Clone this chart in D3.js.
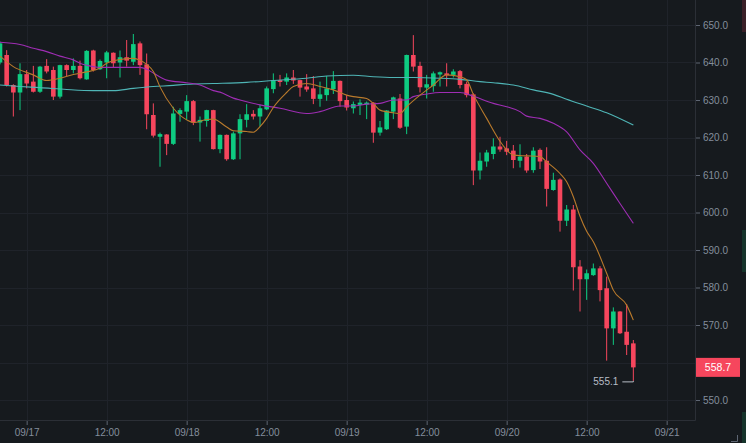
<!DOCTYPE html>
<html>
<head>
<meta charset="utf-8">
<script src="https://cdn.jsdelivr.net/npm/d3@7"></script>
<style>
  html, body { margin: 0; padding: 0; background: #161a1e; }
  svg { display: block; }
</style>
</head>
<body>
<svg id="chart" width="746" height="443"></svg>
<script>
// hourly candles, the first one is 09/16 20:00
const open = [
  640.0, 642.0, 634.0, 632.0, 636.9, 634.9, 632.2, 639.1, 638.0, 630.9,
  639.3, 638.0, 639.1, 635.5, 643.2, 638.2, 640.0, 642.6, 640.0, 641.4,
  640.2, 645.1, 639.5, 626.0, 620.2, 620.8, 618.3, 626.3, 626.9, 629.7,
  624.0, 624.4, 627.3, 616.9, 620.7, 614.2, 621.1, 624.7, 626.3, 625.6,
  627.5, 632.9, 635.3, 634.9, 636.0, 635.3, 633.6, 633.1, 630.3, 631.3,
  632.9, 635.1, 630.0, 627.8, 628.7, 628.8, 629.3, 621.3, 622.2, 626.9,
  630.4, 622.9, 642.0, 639.1, 633.3, 633.7, 636.8, 637.1, 636.7, 637.7,
  634.3, 631.5, 611.2, 613.6, 615.6, 617.6, 617.1, 616.5, 613.8, 614.9,
  611.3, 616.7, 613.8, 606.0, 608.8, 597.8, 600.8, 585.6, 582.2, 583.3,
  585.1, 579.8, 569.1, 573.6, 568.2, 565.1
];
const high = [
  645.6, 643.3, 634.2, 639.8, 638.0, 639.1, 639.1, 640.9, 638.9, 639.4,
  639.5, 641.1, 640.5, 643.3, 643.4, 640.8, 643.1, 642.7, 643.2, 646.0,
  647.6, 645.6, 642.4, 629.1, 621.3, 620.9, 628.2, 627.8, 631.3, 630.0,
  625.6, 627.4, 627.4, 620.8, 620.8, 621.6, 626.2, 628.9, 627.3, 628.7,
  633.6, 637.1, 636.7, 637.1, 638.0, 635.4, 636.9, 636.4, 634.9, 636.4,
  637.7, 635.2, 631.3, 629.6, 630.2, 629.6, 629.4, 624.4, 627.3, 630.9,
  631.6, 642.1, 647.3, 640.2, 636.7, 637.6, 637.6, 639.8, 638.2, 638.0,
  634.9, 631.8, 616.0, 616.7, 619.8, 620.2, 619.1, 618.0, 618.2, 615.6,
  617.4, 617.1, 617.4, 610.6, 609.1, 602.0, 602.0, 587.3, 584.8, 586.4,
  585.7, 582.9, 574.7, 573.7, 575.6, 566.0
];
const low = [
  639.5, 633.6, 625.6, 627.3, 633.1, 632.0, 631.9, 637.1, 630.0, 630.4,
  636.4, 637.1, 635.5, 635.4, 637.6, 638.0, 635.8, 638.6, 636.0, 638.9,
  639.3, 636.7, 622.2, 620.0, 612.2, 615.3, 618.0, 624.2, 624.7, 623.3,
  618.9, 622.9, 616.8, 615.8, 613.8, 614.0, 614.2, 622.7, 624.8, 622.9,
  627.3, 631.8, 633.6, 634.0, 634.3, 630.9, 632.2, 628.9, 628.2, 629.8,
  631.6, 628.2, 627.2, 626.4, 626.0, 624.9, 618.6, 620.5, 622.0, 624.9,
  622.3, 620.9, 637.6, 632.0, 630.4, 632.2, 633.6, 633.6, 636.0, 633.1,
  630.7, 607.3, 608.8, 612.2, 614.2, 616.2, 615.3, 611.8, 612.0, 610.6,
  610.6, 611.6, 601.6, 605.8, 594.9, 596.4, 579.2, 573.6, 576.7, 583.1,
  576.3, 560.5, 564.7, 567.6, 562.0, 555.1
];
const close = [
  645.1, 634.0, 632.0, 636.9, 634.4, 632.2, 638.9, 637.6, 630.9, 639.3,
  638.0, 639.1, 635.8, 643.1, 638.0, 640.4, 642.7, 639.8, 641.4, 640.5,
  644.9, 639.3, 626.2, 620.5, 620.9, 618.3, 626.4, 627.3, 629.7, 624.0,
  624.7, 627.3, 616.9, 620.7, 614.2, 621.1, 624.9, 626.2, 625.6, 627.8,
  633.1, 635.3, 634.8, 636.0, 635.2, 633.3, 632.8, 630.3, 631.5, 633.1,
  635.1, 629.7, 628.0, 628.9, 629.3, 629.3, 621.3, 622.7, 627.2, 630.7,
  622.6, 642.0, 638.9, 633.4, 634.2, 637.1, 637.4, 636.6, 637.6, 634.0,
  631.3, 611.2, 613.8, 616.0, 617.6, 616.8, 616.2, 614.0, 614.9, 611.2,
  616.5, 613.6, 606.3, 608.7, 597.8, 600.8, 585.4, 582.2, 583.8, 585.1,
  579.3, 569.1, 573.6, 567.8, 564.7, 558.7
];

// moving averages: [candle index, value]
const maFast = [
  [0, 641.7], [2, 638.9], [5, 636.7], [7, 635.2], [9, 635.8], [11, 636.8], [13, 637.5],
  [15, 638.5], [16, 639.8], [18, 640.8], [20, 641.1], [21, 640.6], [22, 639.5], [23, 637.6],
  [24, 633.5], [26, 627.8], [28, 624.7], [29, 624.0], [31, 624.8], [32, 624.9], [34, 622.8],
  [35, 621.8], [37, 621.6], [38, 621.4], [39, 622.9], [40, 625.1], [41, 628.0], [43, 632.0],
  [44, 633.6], [46, 634.4], [48, 633.6], [50, 632.7], [52, 631.3], [53, 630.9], [55, 630.4],
  [56, 629.1], [57, 627.3], [59, 626.6], [60, 626.4], [61, 628.2], [63, 631.3], [65, 634.0],
  [67, 636.7], [69, 636.2], [70, 635.4], [71, 631.5], [73, 625.1], [75, 619.0], [76, 616.7],
  [77, 615.3], [79, 615.1], [81, 614.9], [82, 613.5], [84, 610.4], [85, 608.2], [86, 604.2],
  [87, 599.0], [88, 595.0], [89, 592.2], [91, 583.8], [92, 579.3], [94, 575.3], [95, 571.3]
];
const maMid = [
  [0, 645.4], [3, 644.8], [5, 643.8], [7, 642.9], [9, 641.7], [11, 640.7], [12, 639.8],
  [14, 638.9], [15, 638.7], [21, 638.7], [22, 638.2], [23, 637.2], [25, 635.3], [28, 634.6],
  [30, 634.0], [32, 632.5], [33, 632.1], [35, 630.5], [36, 630.0], [39, 628.7], [42, 627.8],
  [46, 626.4], [48, 626.9], [51, 628.4], [53, 628.4], [55, 628.9], [57, 629.1], [59, 630.0],
  [61, 630.0], [62, 630.9], [64, 631.6], [66, 632.0], [69, 632.0], [71, 631.0], [74, 629.1],
  [76, 628.2], [78, 626.9], [79, 625.7], [81, 625.1], [83, 623.8], [85, 621.5], [87, 616.7],
  [89, 613.1], [91, 607.8], [93, 602.4], [95, 597.1]
];
const maSlow = [
  [0, 634.0], [3, 633.6], [6, 633.3], [10, 632.8], [14, 632.5], [17, 632.5], [20, 633.1],
  [23, 633.6], [26, 633.9], [28, 634.2], [32, 634.4], [37, 634.7], [41, 635.2], [46, 635.8],
  [49, 636.4], [53, 636.6], [56, 636.2], [59, 636.0], [62, 636.0], [66, 635.8], [69, 635.5],
  [72, 634.9], [74, 634.6], [77, 634.0], [80, 632.7], [83, 631.5], [85, 630.2], [88, 628.4],
  [91, 626.6], [95, 623.3]
];

const priceTicks = [550, 560, 570, 580, 590, 600, 610, 620, 630, 640, 650];
const lastPrice = 558.7;
const lowPrice = 555.1;

const up = "#0ecb81", down = "#f6465d";
const plotW = 695, plotH = 420;

const svg = d3.select("#chart");
svg.append("rect").attr("width", 746).attr("height", 443).attr("fill", "#161a1e");

const t0 = new Date(2021, 8, 16, 20);
const times = open.map((d, i) => d3.timeHour.offset(t0, i));

const x = d3.scaleTime()
  .domain([t0, d3.timeMinute.offset(t0, 104.25 * 60)])
  .range([0, plotW]);
const y = d3.scaleLinear().domain([550, 650]).range([400, 25]);

const xTicks = x.ticks(d3.timeHour.every(12));

// grid
svg.append("g").selectAll("line").data(priceTicks).join("line")
  .attr("x1", 0).attr("x2", plotW)
  .attr("y1", d => Math.round(y(d)) + 0.5).attr("y2", d => Math.round(y(d)) + 0.5)
  .attr("stroke", "#1f232a");
svg.append("g").selectAll("line").data(xTicks).join("line")
  .attr("x1", d => Math.round(x(d)) + 0.5).attr("x2", d => Math.round(x(d)) + 0.5)
  .attr("y1", 0).attr("y2", plotH)
  .attr("stroke", "#1f232a");

// candles
svg.append("clipPath").attr("id", "plot")
  .append("rect").attr("width", plotW).attr("height", plotH);
const plot = svg.append("g").attr("clip-path", "url(#plot)");

const idx = d3.range(open.length);
const col = i => close[i] >= open[i] ? up : down;

plot.append("g").selectAll("line").data(idx).join("line")
  .attr("x1", i => x(times[i])).attr("x2", i => x(times[i]))
  .attr("y1", i => y(high[i])).attr("y2", i => y(low[i]))
  .attr("stroke", col).attr("stroke-width", 1);

const bw = 4.6;
plot.append("g").selectAll("rect").data(idx).join("rect")
  .attr("x", i => x(times[i]) - bw / 2)
  .attr("width", bw)
  .attr("y", i => y(Math.max(open[i], close[i])))
  .attr("height", i => Math.max(1, Math.abs(y(open[i]) - y(close[i]))))
  .attr("fill", col);

// moving averages
const maLine = d3.line()
  .x(d => x(times[d[0]]))
  .y(d => y(d[1]))
  .curve(d3.curveMonotoneX);

[[maSlow, "#4fb5b6"], [maMid, "#9e2db3"], [maFast, "#b97a2c"]].forEach(([data, c]) => {
  plot.append("path").datum(data)
    .attr("d", maLine)
    .attr("fill", "none")
    .attr("stroke", c)
    .attr("stroke-width", 1.1);
});

// axis frame
svg.append("line").attr("x1", plotW + 0.5).attr("x2", plotW + 0.5)
  .attr("y1", 0).attr("y2", plotH + 0.5).attr("stroke", "#2b2f36");
svg.append("line").attr("x1", 0).attr("x2", plotW + 0.5)
  .attr("y1", plotH + 0.5).attr("y2", plotH + 0.5).attr("stroke", "#2b2f36");

const fmtTime = d => d.getHours() === 0 ? d3.timeFormat("%m/%d")(d) : d3.timeFormat("%H:%M")(d);

const gx = svg.append("g").attr("transform", `translate(0,${plotH + 1})`)
  .call(d3.axisBottom(x).tickValues(xTicks).tickSize(4).tickPadding(4).tickFormat(fmtTime));
const gy = svg.append("g").attr("transform", `translate(${plotW + 1},0)`)
  .call(d3.axisRight(y).tickValues(priceTicks).tickSize(4).tickPadding(3).tickFormat(d3.format(".1f")));

[gx, gy].forEach(g => {
  g.select(".domain").remove();
  g.selectAll(".tick line").attr("stroke", "#5e6673");
  g.selectAll("text")
    .attr("fill", "#848e9c")
    .style("font-family", "'Liberation Sans', Arial, sans-serif")
    .style("font-size", "10px");
});

// the price tag sits over the tick label that it covers
const yl = y(lastPrice);
gy.selectAll(".tick").filter(d => Math.abs(y(d) - yl) < 10).select("text").remove();

svg.append("rect")
  .attr("x", plotW + 1).attr("y", yl - 9.5)
  .attr("width", 44).attr("height", 19)
  .attr("fill", down);
svg.append("text")
  .attr("x", plotW + 23).attr("y", yl).attr("dy", "0.35em")
  .attr("text-anchor", "middle")
  .attr("fill", "#ffffff")
  .style("font-family", "'Liberation Sans', Arial, sans-serif")
  .style("font-size", "10.5px")
  .text(lastPrice.toFixed(1));

// lowest price marker
const lowIdx = low.indexOf(lowPrice);
const xlow = x(times[lowIdx]);
const ylow = y(lowPrice) + 1;
svg.append("path")
  .attr("d", `M${xlow},${ylow - 1}V${ylow}H${xlow - 11}`)
  .attr("fill", "none").attr("stroke", "#b7bdc6");
svg.append("text")
  .attr("x", xlow - 15).attr("y", ylow).attr("dy", "0.35em")
  .attr("text-anchor", "end")
  .attr("fill", "#b7bdc6")
  .style("font-family", "'Liberation Sans', Arial, sans-serif")
  .style("font-size", "10px")
  .text(lowPrice.toFixed(1));

// bits of neighbouring panel and resize corner
svg.append("rect").attr("x", 742).attr("y", 0).attr("width", 4).attr("height", 32).attr("fill", "#3a1f27");
svg.append("rect").attr("x", 742).attr("y", 230).attr("width", 4).attr("height", 42).attr("fill", "#16342b");
svg.append("rect").attr("x", 742).attr("y", 412).attr("width", 4).attr("height", 31).attr("fill", "#16342b");
svg.append("path").attr("d", "M731,441.5H737.5V435").attr("fill", "none").attr("stroke", "#5e6673");
</script>
</body>
</html>
